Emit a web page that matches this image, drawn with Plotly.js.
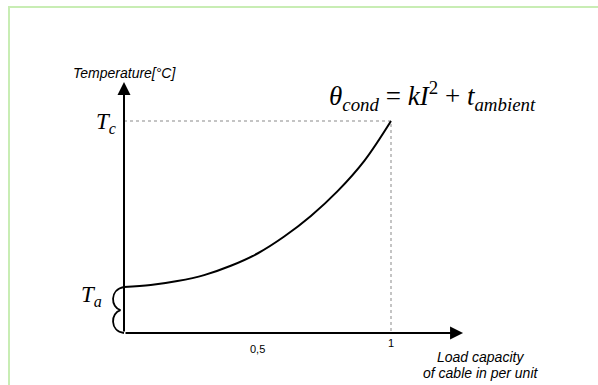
<!DOCTYPE html>
<html>
<head>
<meta charset="utf-8">
<script src="https://cdn.plot.ly/plotly-3.0.1.min.js"></script>
<style>html,body{margin:0;padding:0;background:#fff;}#chart{width:598px;height:385px;}</style>
</head>
<body>
<div id="chart"></div>
<script>
// Load capacity (per unit) and temperature (normalised so that Tc = 1)
const loadPU = [0, 0.1, 0.2, 0.3, 0.4, 0.5, 0.6, 0.7, 0.8, 0.9, 1.0];
const tempNorm = [0.217, 0.226, 0.245, 0.273, 0.317, 0.375, 0.455, 0.552, 0.669, 0.812, 1.0];
const Ta = 0.217;
const Tc = 1.0;
const tickVals = [0.5, 1];
const tickText = ['0,5', '1'];
const xAxisEnd = 1.27;
const yAxisEnd = 1.184;

const curve = {
  x: loadPU, y: tempNorm, type: 'scatter', mode: 'lines',
  line: {color: '#000', width: 2, shape: 'spline', smoothing: 1},
  hoverinfo: 'skip', showlegend: false
};
const guides = {
  x: [0, 1, 1], y: [Tc, Tc, 0], type: 'scatter', mode: 'lines',
  line: {color: '#c4c4c4', width: 2, dash: 'dot'},
  hoverinfo: 'skip', showlegend: false
};

const serif = 'Liberation Serif, Times New Roman, serif';
const sans = 'Liberation Sans, Arial, sans-serif';

const annotations = [
  {x: xAxisEnd, y: 0, ax: 0, ay: 0, xref: 'x', yref: 'y', axref: 'x', ayref: 'y',
   showarrow: true, arrowhead: 2, arrowsize: 1.3, arrowwidth: 2, arrowcolor: '#000', text: ''},
  {x: 0, y: yAxisEnd, ax: 0, ay: 0, xref: 'x', yref: 'y', axref: 'x', ayref: 'y',
   showarrow: true, arrowhead: 2, arrowsize: 1.3, arrowwidth: 2, arrowcolor: '#000', text: ''},
  {x: 0, y: 1.226, xref: 'x', yref: 'y', showarrow: false, text: '<i>Temperature[°C]</i>',
   font: {family: sans, size: 14, color: '#000'}, xanchor: 'center', yanchor: 'middle'},
  {x: 1.337, y: -0.113, xref: 'x', yref: 'y', showarrow: false, text: '<i>Load capacity</i>',
   font: {family: sans, size: 14, color: '#000'}, xanchor: 'center', yanchor: 'middle'},
  {x: 1.337, y: -0.189, xref: 'x', yref: 'y', showarrow: false, text: '<i>of cable in per unit</i>',
   font: {family: sans, size: 14, color: '#000'}, xanchor: 'center', yanchor: 'middle'},
  {x: tickVals[0], y: 0, xref: 'x', yref: 'y', showarrow: false, text: tickText[0],
   font: {family: sans, size: 11, color: '#000'}, xanchor: 'center', yanchor: 'top', yshift: -8},
  {x: tickVals[1], y: 0, xref: 'x', yref: 'y', showarrow: false, text: tickText[1],
   font: {family: sans, size: 11, color: '#000'}, xanchor: 'center', yanchor: 'top', yshift: -2},
  {x: 0, y: Tc, xref: 'x', yref: 'y', showarrow: false, text: '<i>T</i><sub><i>c</i></sub>',
   font: {family: serif, size: 23, color: '#000'}, xanchor: 'right', yanchor: 'middle', xshift: -6, yshift: -2},
  {x: 0, y: 0.175, xref: 'x', yref: 'y', showarrow: false, text: '<i>T</i><sub><i>a</i></sub>',
   font: {family: serif, size: 23, color: '#000'}, xanchor: 'right', yanchor: 'middle', xshift: -20, yshift: 0},
  {x: 0.76, y: 1.12, xref: 'x', yref: 'y', showarrow: false,
   text: '<i>θ</i><sub><i>cond</i></sub> = <i>kI</i><sup>2</sup> + <i>t</i><sub><i>ambient</i></sub>',
   font: {family: serif, size: 27, color: '#000'}, xanchor: 'left', yanchor: 'middle'}
];

const shapes = [
  {type: 'path', xref: 'x', yref: 'y',
   path: 'M 0 ' + Ta + ' C -0.055 0.205, -0.05 0.12, -0.013 0.108 C -0.05 0.096, -0.055 0.01, 0 0',
   line: {color: '#000', width: 1.8}},
  {type: 'path', xref: 'paper', yref: 'paper',
   path: 'M 0.01505 0 L 0.01505 0.9818 L 1.01 0.9818',
   line: {color: '#c8edb4', width: 2}}
];

const layout = {
  width: 598, height: 385,
  margin: {l: 0, r: 0, t: 0, b: 0},
  paper_bgcolor: '#fff', plot_bgcolor: '#fff',
  xaxis: {range: [-124 / 267, (598 - 124) / 267], visible: false, fixedrange: true},
  yaxis: {range: [-(385 - 333) / 212, 333 / 212], visible: false, fixedrange: true},
  annotations: annotations, shapes: shapes, showlegend: false
};

Plotly.newPlot('chart', [guides, curve], layout, {staticPlot: true, displayModeBar: false});
</script>
</body>
</html>
